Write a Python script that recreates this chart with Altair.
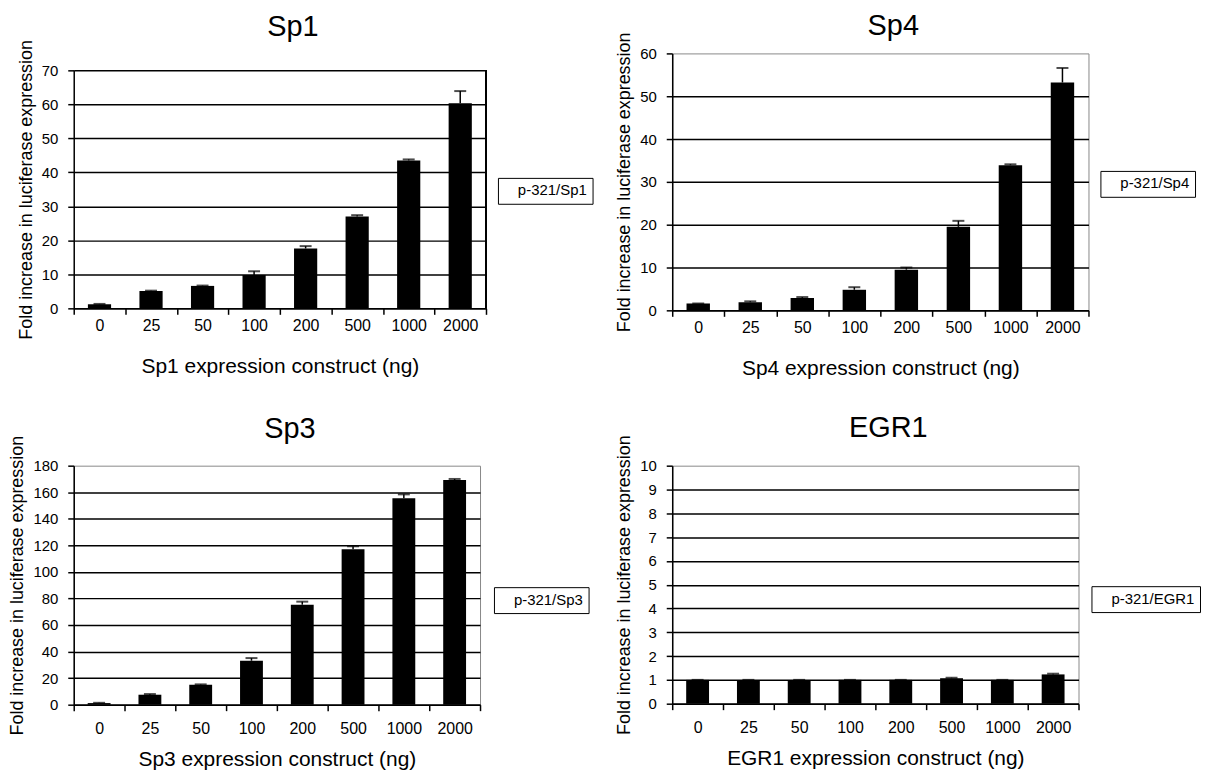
import altair as alt
import pandas as pd

FONT = "Liberation Sans"

doses = ["0", "25", "50", "100", "200", "500", "1000", "2000"]

sp1_values = [1.2, 5.1, 6.6, 9.8, 17.6, 27.0, 43.5, 60.3]
sp1_errors = [0.1, 0.1, 0.1, 1.1, 0.7, 0.4, 0.3, 3.6]
sp1_ticks = [0, 10, 20, 30, 40, 50, 60, 70]

sp4_values = [1.6, 1.9, 2.9, 4.8, 9.5, 19.5, 33.9, 53.2]
sp4_errors = [0.0, 0.2, 0.2, 0.6, 0.5, 1.4, 0.2, 3.4]
sp4_ticks = [0, 10, 20, 30, 40, 50, 60]

sp3_values = [1.2, 7.5, 15.0, 33.1, 75.3, 117.0, 155.4, 169.2]
sp3_errors = [0.2, 0.5, 0.3, 2.0, 2.3, 2.3, 3.0, 0.8]
sp3_ticks = [0, 20, 40, 60, 80, 100, 120, 140, 160, 180]

egr1_values = [1.0, 1.0, 1.0, 1.0, 1.0, 1.07, 1.0, 1.23]
egr1_errors = [0.0, 0.0, 0.0, 0.0, 0.0, 0.02, 0.0, 0.03]
egr1_ticks = [0, 1, 2, 3, 4, 5, 6, 7, 8, 9, 10]


def panel(name, values, errors, yticks, width, height, title_offset,
          legend_x, legend_y, border_color, hide_top_grid,
          x_label_pad=3, x_title_pad=22, top_gap=0):
    df = pd.DataFrame({"dose": doses, "value": values, "err": errors})
    df["top"] = df["value"] + df["err"]
    df["series"] = "p-321/" + name
    ymax = yticks[-1]
    if hide_top_grid:
        grid_op = {"condition": {"test": f"datum.value >= {ymax}", "value": 0}, "value": 1}
    else:
        grid_op = 1

    xaxis = alt.Axis(
        title=f"{name} expression construct (ng)", labelAngle=0, tickBand="extent",
        grid=False, domainColor="black", domainWidth=1.5, tickColor="black",
        tickWidth=1.5, tickSize=6, labelFont=FONT, labelFontSize=16,
        labelColor="black", labelPadding=x_label_pad, titleFont=FONT, titleFontSize=21,
        titleFontWeight="normal", titleColor="black", titlePadding=x_title_pad)
    yaxis = alt.Axis(
        values=yticks, title="Fold increase in luciferase expression", grid=True,
        gridColor="black", gridWidth=1.5, gridOpacity=grid_op, domainColor="black",
        domainWidth=1.5, tickColor="black", tickWidth=1.5, tickSize=6,
        labelFont=FONT, labelFontSize=15, labelColor="black", labelPadding=10,
        titleFont=FONT, titleFontSize=18, titleFontWeight="normal",
        titleColor="black", titlePadding=6)
    if top_gap:
        yscale = alt.Scale(domain=[0, ymax], nice=False, zero=True, range=[height, top_gap])
    else:
        yscale = alt.Scale(domain=[0, ymax], nice=False, zero=True)
    xscale = alt.Scale(paddingInner=0, paddingOuter=0)
    xenc = alt.X("dose:N", sort=doses, scale=xscale, axis=xaxis)

    bars = alt.Chart(df).mark_bar(width=alt.RelativeBandSize(0.45)).encode(
        x=xenc,
        y=alt.Y("value:Q", scale=yscale, axis=yaxis),
        color=alt.Color("series:N", scale=alt.Scale(range=["black"]),
                        legend=alt.Legend(title=None, orient="none", legendX=legend_x,
                                          legendY=legend_y, strokeColor="black",
                                          fillColor="white", padding=5,
                                          symbolOpacity=0, symbolSize=0,
                                          symbolStrokeWidth=0, labelOffset=0,
                                          labelFont=FONT, labelFontSize=15,
                                          labelColor="black")),
    )
    rule = alt.Chart(df).mark_rule(color="black", strokeWidth=1.5).encode(
        x=xenc,
        y=alt.Y("value:Q", scale=yscale, axis=yaxis),
        y2="top:Q",
    )
    cap = alt.Chart(df).mark_tick(color="black", thickness=2, size=12, orient="horizontal").encode(
        x=xenc,
        y=alt.Y("top:Q", scale=yscale, axis=yaxis),
    )
    layers = [bars, rule, cap]
    if top_gap:
        # right-hand frame line of the plot area, from 0 up to the top tick
        frame = alt.Chart(df).mark_rule(color="black", strokeWidth=1.5).encode(
            x=alt.XDatum(doses[-1], type="nominal", bandPosition=1, scale=xscale, axis=xaxis),
            y=alt.YDatum(yticks[0], type="quantitative", scale=yscale, axis=yaxis),
            y2=alt.Y2Datum(yticks[-1]),
        )
        layers.append(frame)
    return alt.layer(*layers).properties(
        width=width, height=height,
        title=alt.TitleParams(name, font=FONT, fontSize=29, fontWeight="normal",
                              color="black", offset=title_offset, dx=13, anchor="middle"),
        view=alt.ViewBackground(stroke=border_color, strokeWidth=1),
    )


p1 = panel("Sp1", sp1_values, sp1_errors, sp1_ticks, 414, 256, -3, 426, 125,
           "transparent", False, top_gap=17)
p4 = panel("Sp4", sp4_values, sp4_errors, sp4_ticks, 418, 258, -9, 430, 118, "#888888", True)
p3 = panel("Sp3", sp3_values, sp3_errors, sp3_ticks, 408, 240, -9, 422, 122, "#888888", True,
           x_label_pad=10, x_title_pad=12)
pe = panel("EGR1", egr1_values, egr1_errors, egr1_ticks, 408, 239, -8, 421, 121, "#888888", True,
           x_label_pad=10, x_title_pad=12)

left_col = alt.concat(p1, p3, columns=1, spacing=37, align="none").resolve_scale(color="independent")
right_col = alt.concat(p4, pe, columns=1, spacing=34, align="none").resolve_scale(color="independent")
chart = alt.concat(left_col, right_col, columns=2, spacing=21, align="none").resolve_scale(
    color="independent"
).properties(
    padding={"left": 0, "top": 1, "right": 0, "bottom": 0},
    background="white",
).configure(font=FONT)

chart.save("out.html", embed_options={"renderer": "svg", "actions": False})
